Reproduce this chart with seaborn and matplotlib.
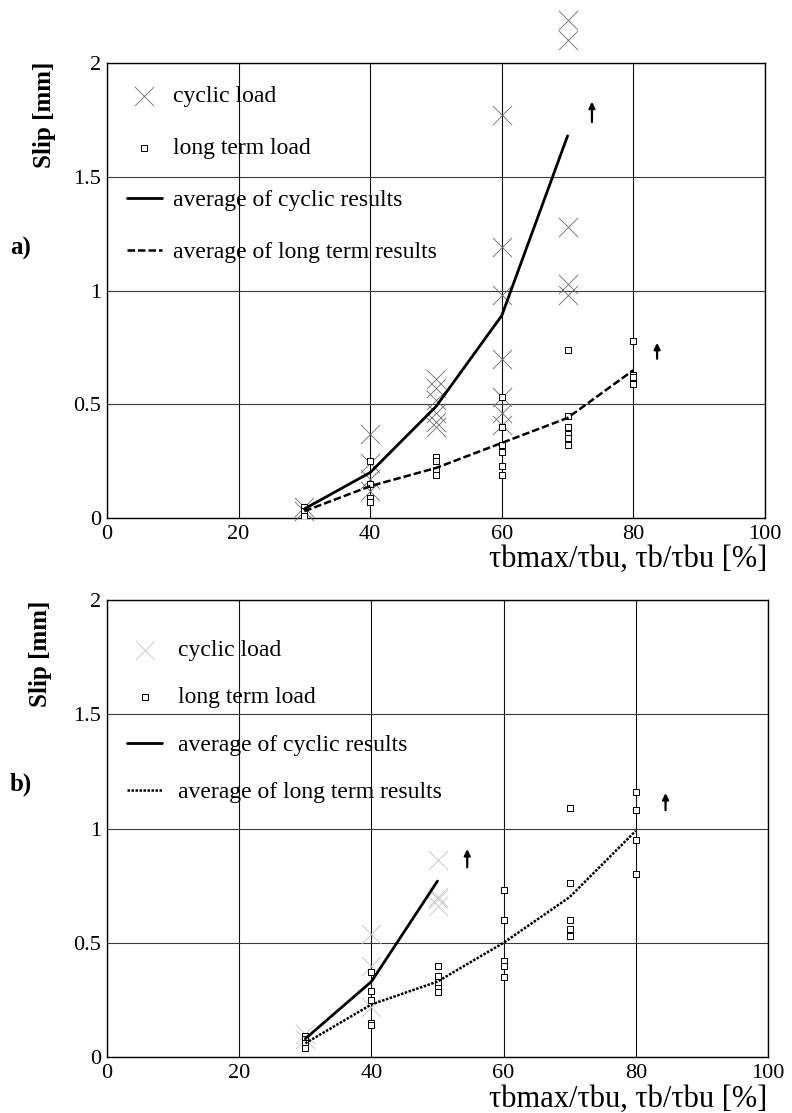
import numpy as np
import pandas as pd
import matplotlib
matplotlib.use("Agg")
import matplotlib.pyplot as plt
import seaborn as sns

# ---------------- data ----------------
# panel a) cyclic load single results
a_cyc_x = [30, 30, 40, 40, 40, 40, 50, 50, 50, 50, 50, 50,
           60, 60, 60, 60, 60, 60, 60, 70, 70, 70, 70, 70]
a_cyc_y = [0.05, 0.03, 0.37, 0.24, 0.17, 0.12, 0.61, 0.57, 0.52, 0.46, 0.42, 0.40,
           1.77, 1.19, 0.98, 0.70, 0.53, 0.46, 0.41, 2.19, 2.10, 1.28, 1.03, 0.98]
# panel a) long term load single results
a_lt_x = [30, 30, 30, 40, 40, 40, 40, 50, 50, 50, 50,
          60, 60, 60, 60, 60, 60, 70, 70, 70, 70, 70, 70, 80, 80, 80, 80]
a_lt_y = [0.05, 0.03, 0.01, 0.25, 0.15, 0.09, 0.07, 0.27, 0.25, 0.21, 0.19,
          0.53, 0.40, 0.32, 0.29, 0.23, 0.19, 0.74, 0.45, 0.40, 0.37, 0.35, 0.32,
          0.78, 0.63, 0.62, 0.59]
# panel a) averages
a_avg_cyc_x = [30, 40, 50, 60, 70]
a_avg_cyc_y = [0.04, 0.20, 0.49, 0.89, 1.68]
a_avg_lt_x = [30, 40, 50, 60, 70, 80]
a_avg_lt_y = [0.03, 0.14, 0.22, 0.33, 0.44, 0.65]

# panel b) cyclic load single results
b_cyc_x = [30, 30, 40, 40, 40, 50, 50, 50, 50]
b_cyc_y = [0.10, 0.08, 0.54, 0.40, 0.22, 0.86, 0.70, 0.69, 0.66]
# panel b) long term load single results
b_lt_x = [30, 30, 30, 30, 40, 40, 40, 40, 40, 50, 50, 50, 50, 50,
          60, 60, 60, 60, 60, 70, 70, 70, 70, 70, 80, 80, 80, 80]
b_lt_y = [0.09, 0.08, 0.06, 0.04, 0.37, 0.29, 0.25, 0.15, 0.14, 0.40, 0.355, 0.33, 0.30, 0.285,
          0.73, 0.60, 0.42, 0.40, 0.35, 1.09, 0.76, 0.60, 0.56, 0.53, 1.16, 1.08, 0.95, 0.80]
# panel b) averages
b_avg_cyc_x = [30, 40, 50]
b_avg_cyc_y = [0.08, 0.33, 0.77]
b_avg_lt_x = [30, 40, 50, 60, 70, 80]
b_avg_lt_y = [0.06, 0.23, 0.33, 0.50, 0.70, 0.99]

x_ticks = [0, 20, 40, 60, 80, 100]
y_ticks = [0, 0.5, 1, 1.5, 2]
y_ticklabels = ["0", "0.5", "1", "1.5", "2"]

labels = ["cyclic load", "long term load",
          "average of cyclic results", "average of long term results"]
x_label = "\u03c4bmax/\u03c4bu, \u03c4b/\u03c4bu [%]"
y_label = "Slip [mm]"

# ---------------- style ----------------
sns.set_theme(style="white")
plt.rcParams["font.family"] = ["Liberation Serif", "DejaVu Serif"]
plt.rcParams["text.color"] = "black"

fig = plt.figure(figsize=(7.92, 11.13), dpi=100)
W, H = 792, 1113


def axes_px(left, right, top, bottom):
    return fig.add_axes([left / W, 1 - bottom / H, (right - left) / W, (bottom - top) / H])


ax_a = axes_px(107, 765, 63, 518)
ax_b = axes_px(107, 768, 600, 1057)


def draw_panel(ax, cx, cy, lx, ly, acx, acy, alx, aly, lt_style, cyc_color, arrows,
               leg_anchor, leg_spacing, text_pad):
    df_c = pd.DataFrame({"x": cx, "y": cy})
    df_l = pd.DataFrame({"x": lx, "y": ly})
    df_ac = pd.DataFrame({"x": acx, "y": acy})
    df_al = pd.DataFrame({"x": alx, "y": aly})

    sns.scatterplot(data=df_c, x="x", y="y", ax=ax, marker="x", s=190,
                    color=cyc_color, linewidth=0.6, clip_on=False, zorder=3,
                    label=labels[0])
    sns.scatterplot(data=df_l, x="x", y="y", ax=ax, marker="s", s=14,
                    facecolor="white", edgecolor="black", linewidth=0.7,
                    zorder=4, label=labels[1])
    sns.lineplot(data=df_ac, x="x", y="y", ax=ax, color="black", linewidth=2.0,
                 zorder=5, label=labels[2])
    sns.lineplot(data=df_al, x="x", y="y", ax=ax, color="black", linewidth=1.8,
                 linestyle=lt_style, zorder=5, label=labels[3])

    for (xa, y0, y1) in arrows:
        ax.annotate("", xy=(xa, y1), xytext=(xa, y0),
                    arrowprops=dict(arrowstyle="-|>", color="black", lw=1.6,
                                    mutation_scale=9, shrinkA=0, shrinkB=0))

    ax.set_xlim(0, 100)
    ax.set_ylim(0, 2)
    ax.set_xticks(x_ticks)
    ax.set_xticklabels([str(t) for t in x_ticks])
    ax.set_yticks(y_ticks)
    ax.set_yticklabels(y_ticklabels)
    ax.tick_params(axis="both", length=0, labelsize=16, colors="black")
    ax.tick_params(axis="x", pad=5)
    ax.tick_params(axis="y", pad=4)
    ax.grid(True, axis="x", color="#111111", linewidth=0.8)
    ax.grid(True, axis="y", color="#3a3a3a", linewidth=0.8)
    ax.set_axisbelow(True)
    for sp in ax.spines.values():
        sp.set_color("black")
        sp.set_linewidth(1.0)
    ax.set_xlabel("")
    ax.set_ylabel("")

    leg = ax.legend(loc="upper left", bbox_to_anchor=leg_anchor, frameon=False,
                    fontsize=17, handlelength=1.5, handletextpad=text_pad,
                    labelspacing=leg_spacing, borderaxespad=0, borderpad=0)
    return leg


draw_panel(ax_a, a_cyc_x, a_cyc_y, a_lt_x, a_lt_y, a_avg_cyc_x, a_avg_cyc_y,
           a_avg_lt_x, a_avg_lt_y, (0, (3, 1.2)), "#6a6a6a",
           [(73.7, 1.74, 1.83), (83.6, 0.70, 0.77)], (0.03, 0.951), 1.3, 0.45)
draw_panel(ax_b, b_cyc_x, b_cyc_y, b_lt_x, b_lt_y, b_avg_cyc_x, b_avg_cyc_y,
           b_avg_lt_x, b_avg_lt_y, (0, (1, 0.6)), "#c4c4c4",
           [(54.5, 0.83, 0.91), (84.5, 1.08, 1.155)], (0.03, 0.914), 1.1, 0.65)

# axis labels and panel tags
for (x_slip, ytop_slip, ytag, yxl, tag) in [(45, 62, 248, 545, "a)"),
                                              (40, 601, 784, 1085, "b)")]:
    fig.text(x_slip / W, 1 - ytop_slip / H, y_label, rotation=90, fontsize=18,
             fontweight="bold", ha="center", va="top")
    fig.text(21 / W, 1 - ytag / H, tag, fontsize=18, fontweight="bold",
             ha="center", va="center")
    fig.text(767 / W, 1 - yxl / H, x_label, fontsize=22, ha="right", va="top")

fig.savefig("out.png", dpi=100)
